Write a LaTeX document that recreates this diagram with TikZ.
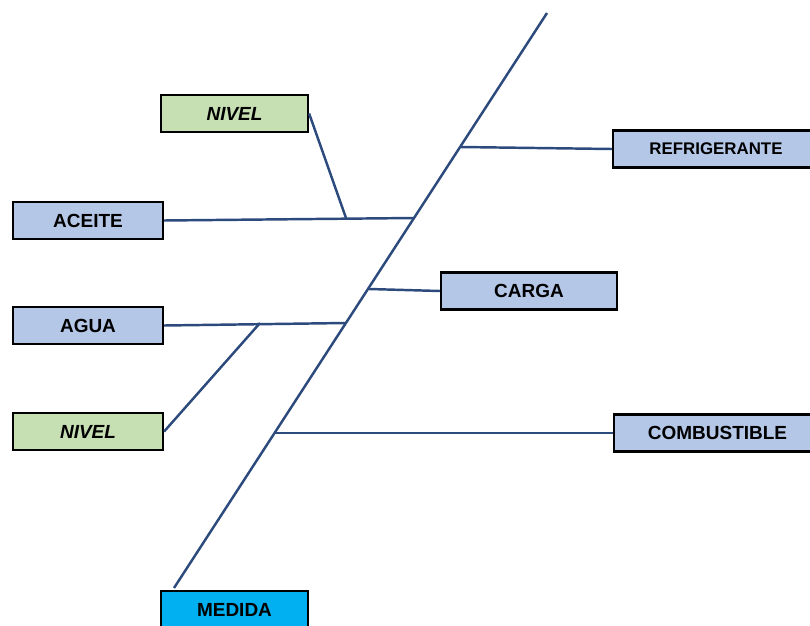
\documentclass[tikz,border=0pt]{standalone}
\usepackage{fontspec}
\setmainfont{Liberation Sans}
\definecolor{boneblue}{HTML}{2C4A7C}
\definecolor{boxblue}{HTML}{B4C7E7}
\definecolor{boxgreen}{HTML}{C6E0B4}
\definecolor{boxcyan}{HTML}{00B0F0}

\begin{document}
\begin{tikzpicture}[x=0.02cm,y=-0.02cm,
    box/.style={draw,line width=1.3pt,fill=boxblue,inner sep=0pt,minimum height=0.74cm,
      font=\fontsize{10.8}{12}\selectfont\bfseries},
    bone/.style={boneblue,line width=1.4pt}]
  \useasboundingbox (0,0) rectangle (810,625);
  % spine of the diagram
  \coordinate (tail) at (174,588);
  \coordinate (head) at (547,13);
  % boxes (absolute positions, pixel units)
  \node[box,fill=boxgreen,minimum width=2.94cm,font=\fontsize{10.8}{12}\selectfont\bfseries\itshape] at (234.5,113.5) (nivelA) {NIVEL};
  \node[box,minimum width=3.0cm] at (88,220.5) (aceite) {ACEITE};
  \node[box,minimum width=3.0cm] at (88,325.5) (agua) {AGUA};
  \node[box,fill=boxgreen,minimum width=3.0cm,font=\fontsize{10.8}{12}\selectfont\bfseries\itshape] at (88,431.5) (nivelB) {NIVEL};
  \node[box,fill=boxcyan,minimum width=2.94cm] at (234.5,609.5) (medida) {MEDIDA};
  \node[box,minimum width=4.12cm,font=\fontsize{9.6}{11}\selectfont\bfseries] at (716,149) (refri) {REFRIGERANTE};
  \node[box,minimum width=3.52cm] at (529,291) (carga) {CARGA};
  \node[box,minimum width=4.14cm] at (717.5,433) (combus) {COMBUSTIBLE};
  % junctions on the spine and on the bones
  \coordinate (jAceite) at (414,218);
  \coordinate (jAgua) at (346,323);
  \coordinate (jRefri) at (460,147);
  \coordinate (jCarga) at (369,289);
  \coordinate (jCombus) at (275,433);
  \coordinate (kAceite) at (346,218);
  \coordinate (kAgua) at (260,323);
  % lines
  \draw[bone] (tail) -- (head);
  \draw[bone] (aceite.east) -- (jAceite);
  \draw[bone] (nivelA.east) -- (kAceite);
  \draw[bone] (agua.east) -- (jAgua);
  \draw[bone] (nivelB.east) -- (kAgua);
  \draw[bone] (jRefri) -- (refri.west);
  \draw[bone] (jCarga) -- (carga.west);
  \draw[bone] (jCombus) -- (combus.west);
\end{tikzpicture}
\end{document}
